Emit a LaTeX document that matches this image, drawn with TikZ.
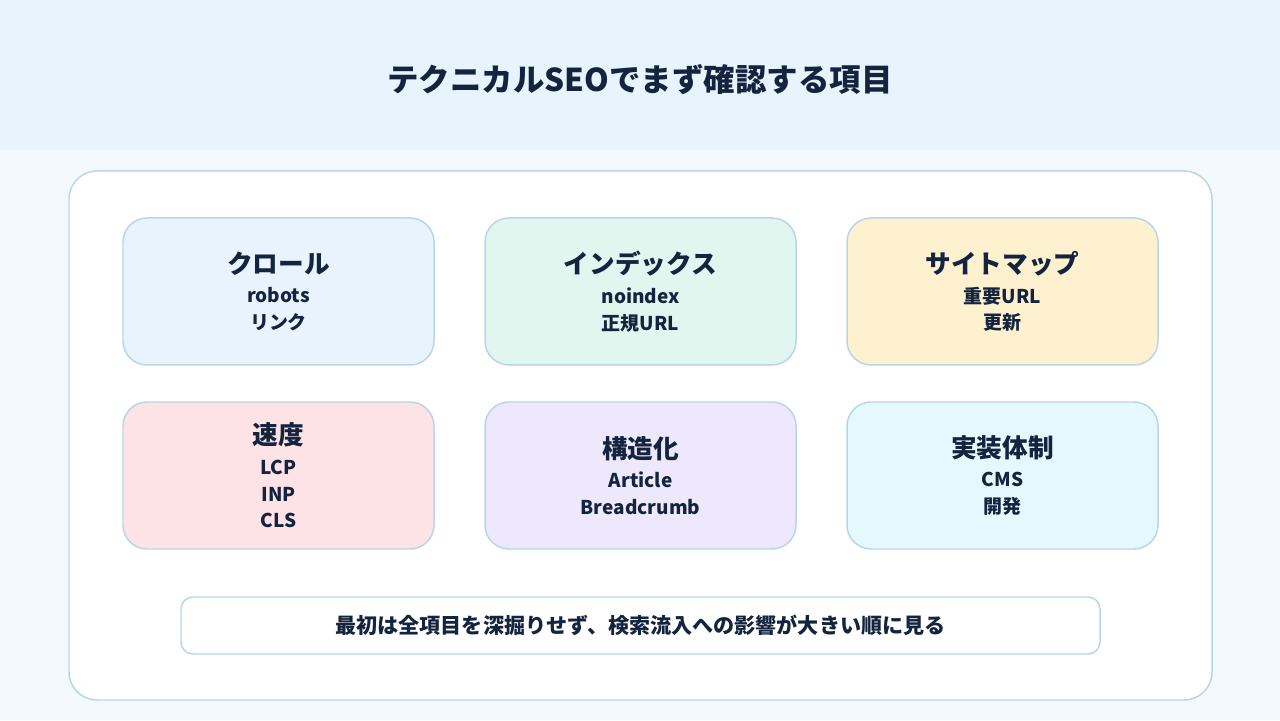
\documentclass[tikz,border=0pt]{standalone}
\usepackage{fontspec}
\setmainfont{Noto Sans CJK JP}
\usetikzlibrary{positioning}

\definecolor{ink}{HTML}{14243E}
\definecolor{headbg}{HTML}{E7F4FD}
\definecolor{pagebg}{HTML}{F4F9FD}
\definecolor{edge}{HTML}{B8D6E9}
\definecolor{crawlbg}{HTML}{E8F3FD}
\definecolor{indexbg}{HTML}{E0F6EF}
\definecolor{mapbg}{HTML}{FEF1CF}
\definecolor{speedbg}{HTML}{FDE2E6}
\definecolor{schemabg}{HTML}{EEE8FD}
\definecolor{teambg}{HTML}{E5F8FD}

\tikzset{
  card/.style={draw=edge, line width=0.85pt, rounded corners=0.48cm,
    minimum width=6.22cm, minimum height=2.94cm, align=center, text=ink,
    font=\fontsize{10.8}{15.3}\selectfont\bfseries}
}

\newcommand{\ctitle}[1]{{\fontsize{14.6}{18}\selectfont\bfseries #1}\\[1.5pt]}

\begin{document}
\begin{tikzpicture}
				% Background and header band
				\fill[pagebg] (0,0) rectangle (25.6,14.4);
				\fill[headbg] (0,11.4) rectangle (25.6,14.4);
				\useasboundingbox (0,0) rectangle (25.6,14.4);
				\node[text=ink, font=\fontsize{17.9}{21}\selectfont\bfseries] (title) at (12.8,12.8) {テクニカルSEOでまず確認する項目};

				% Main panel
				\node[draw=edge, line width=0.85pt, fill=white, rounded corners=0.56cm, minimum width=22.86cm, minimum height=10.58cm] (panel) at (12.81,5.69) {};

				% Top row
				\node[card, fill=crawlbg] (crawl) at (5.57,8.57) {\ctitle{クロール}robots\\リンク};
				\node[card, fill=indexbg] (index) at (12.81,8.57) {\ctitle{インデックス}noindex\\正規URL};
				\node[card, fill=mapbg] (sitemap) at (20.05,8.57) {\ctitle{サイトマップ}重要URL\\更新};

				% Bottom row
				\node[card, fill=speedbg] (speed) at (5.57,4.89) {\ctitle{速度}LCP\\INP\\CLS};
				\node[card, fill=schemabg] (schema) at (12.81,4.89) {\ctitle{構造化}Article\\Breadcrumb};
				\node[card, fill=teambg] (team) at (20.05,4.89) {\ctitle{実装体制}CMS\\開発};

				% Note
				\node[draw=edge, line width=0.85pt, fill=white, rounded corners=0.24cm, minimum width=18.38cm, minimum height=1.14cm, text=ink, font=\fontsize{12}{14}\selectfont\bfseries] (note) at (12.81,1.89) {最初は全項目を深掘りせず、検索流入への影響が大きい順に見る};
\end{tikzpicture}
\end{document}
